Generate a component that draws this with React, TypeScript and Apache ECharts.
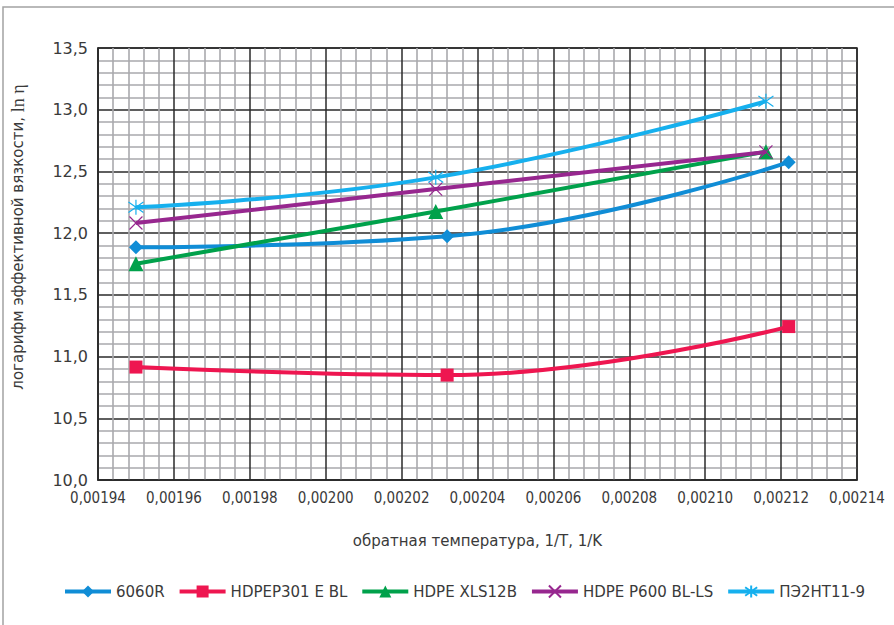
import React, { useEffect, useRef } from "react";
import * as echarts from "echarts";

// Inverse temperature 1/T, 1/K, and log of effective viscosity ln η for each grade
const seriesNames = ["6060R", "HDPEP301 E BL", "HDPE XLS12B", "HDPE P600 BL-LS", "ПЭ2НТ11-9"];

const x6060R = [0.00195, 0.002032, 0.002122];
const y6060R = [11.885, 11.975, 12.575];

const xHDPEP301 = [0.00195, 0.002032, 0.002122];
const yHDPEP301 = [10.915, 10.85, 11.243];

const xXLS12B = [0.00195, 0.002029, 0.002116];
const yXLS12B = [11.752, 12.176, 12.66];

const xP600 = [0.00195, 0.002029, 0.002116];
const yP600 = [12.082, 12.357, 12.658];

const xPE2NT = [0.00195, 0.002029, 0.002116];
const yPE2NT = [12.209, 12.452, 13.068];

const xTickMin = 0.00194;
const xTickMax = 0.00214;
const xTickStep = 0.00002;
const yTickMin = 10.0;
const yTickMax = 13.5;
const yTickStep = 0.5;

const colors = ["#108dd6", "#ee1650", "#00a14b", "#97278f", "#16b0ee"];

const crossPath = "path://M0,0L10,10M10,0L0,10";
const starPath = "path://M0,1.5L10,8.5M10,1.5L0,8.5M5,0L5,10";

const pairs = (xs: number[], ys: number[]) => xs.map((x, i) => [x, ys[i]]);

export default function App() {
  const ref = useRef<HTMLDivElement>(null);

  useEffect(() => {
    if (!ref.current) return;
    const chart = echarts.init(ref.current, undefined, { renderer: "svg" });

    const dataSets = [
      pairs(x6060R, y6060R),
      pairs(xHDPEP301, yHDPEP301),
      pairs(xXLS12B, yXLS12B),
      pairs(xP600, yP600),
      pairs(xPE2NT, yPE2NT),
    ];
    const symbols = ["diamond", "rect", "triangle", crossPath, starPath];
    const symbolSizes = [14, 13, 15, 13, 15];

    const series = seriesNames.map((name, i) => {
      const stroked = i >= 3;
      return {
        name,
        type: "line",
        data: dataSets[i],
        smooth: 0.45,
        symbol: symbols[i],
        symbolSize: symbolSizes[i],
        showSymbol: true,
        lineStyle: { color: colors[i], width: 4 },
        itemStyle: stroked
          ? { color: colors[i], borderColor: colors[i], borderWidth: 1.2 }
          : { color: colors[i], borderWidth: 0 },
        z: 3 + i,
      };
    });

    const labelColor = "#3a3a3a";

    chart.setOption({
      animation: false,
      backgroundColor: "#ffffff",
      color: colors,
      grid: {
        left: 98,
        right: 37,
        top: 48,
        bottom: 145,
        show: true,
        borderColor: "#2a2a2a",
        borderWidth: 1.5,
        backgroundColor: "transparent",
      },
      xAxis: {
        type: "value",
        min: xTickMin,
        max: xTickMax,
        interval: xTickStep,
        name: "обратная температура, 1/T, 1/K",
        nameLocation: "middle",
        nameGap: 53,
        nameTextStyle: {
          fontFamily: "DejaVu Sans",
          fontSize: 15,
          color: labelColor,
        },
        axisLine: { show: true, lineStyle: { color: "#2a2a2a", width: 1.5 } },
        axisTick: { show: false },
        axisLabel: {
          margin: 10,
          fontFamily: "DejaVu Sans Condensed, DejaVu Sans",
          fontSize: 15,
          color: labelColor,
          formatter: (v: number) => v.toFixed(5).replace(".", ","),
        },
        splitLine: { show: true, lineStyle: { color: "#2a2a2a", width: 1.5 } },
        minorTick: { show: false, splitNumber: 5 },
        minorSplitLine: { show: true, lineStyle: { color: "#a9a9ad", width: 1.6 } },
      },
      yAxis: {
        type: "value",
        min: yTickMin,
        max: yTickMax,
        interval: yTickStep,
        axisLine: { show: true, lineStyle: { color: "#2a2a2a", width: 1.5 } },
        axisTick: { show: false },
        axisLabel: {
          margin: 10,
          fontFamily: "DejaVu Sans",
          fontSize: 16,
          color: labelColor,
          formatter: (v: number) => v.toFixed(1).replace(".", ","),
        },
        splitLine: { show: true, lineStyle: { color: "#2a2a2a", width: 1.5 } },
        minorTick: { show: false, splitNumber: 5 },
        minorSplitLine: { show: true, lineStyle: { color: "#a9a9ad", width: 1.6 } },
      },
      legend: {
        data: seriesNames,
        left: 58,
        top: 579,
        itemWidth: 46,
        itemHeight: 15,
        itemGap: 13,
        lineStyle: { width: 4 },
        textStyle: {
          fontFamily: "DejaVu Sans",
          fontSize: 15,
          color: labelColor,
        },
      },
      graphic: [
        {
          type: "rect",
          silent: true,
          shape: { x: 3, y: 7, width: 1000, height: 1000 },
          style: { fill: "none", stroke: "#a3a3a3", lineWidth: 1.5 },
          z: 0,
        },
        {
          type: "text",
          silent: true,
          x: 18,
          y: 237,
          rotation: Math.PI / 2,
          style: {
            text: "{a|логарифм эффективной вязкости, }{b|ln η}",
            align: "center",
            verticalAlign: "middle",
            rich: {
              a: { fontFamily: "DejaVu Sans", fontSize: 15, fill: labelColor },
              b: { fontFamily: "Liberation Serif, DejaVu Serif", fontSize: 18, fill: labelColor },
            },
          },
        },
      ],
      series,
    });

    return () => chart.dispose();
  }, []);

  return (
    <div
      ref={ref}
      style={{ position: "fixed", left: 0, top: 0, width: 894, height: 625, background: "#fff" }}
    />
  );
}
